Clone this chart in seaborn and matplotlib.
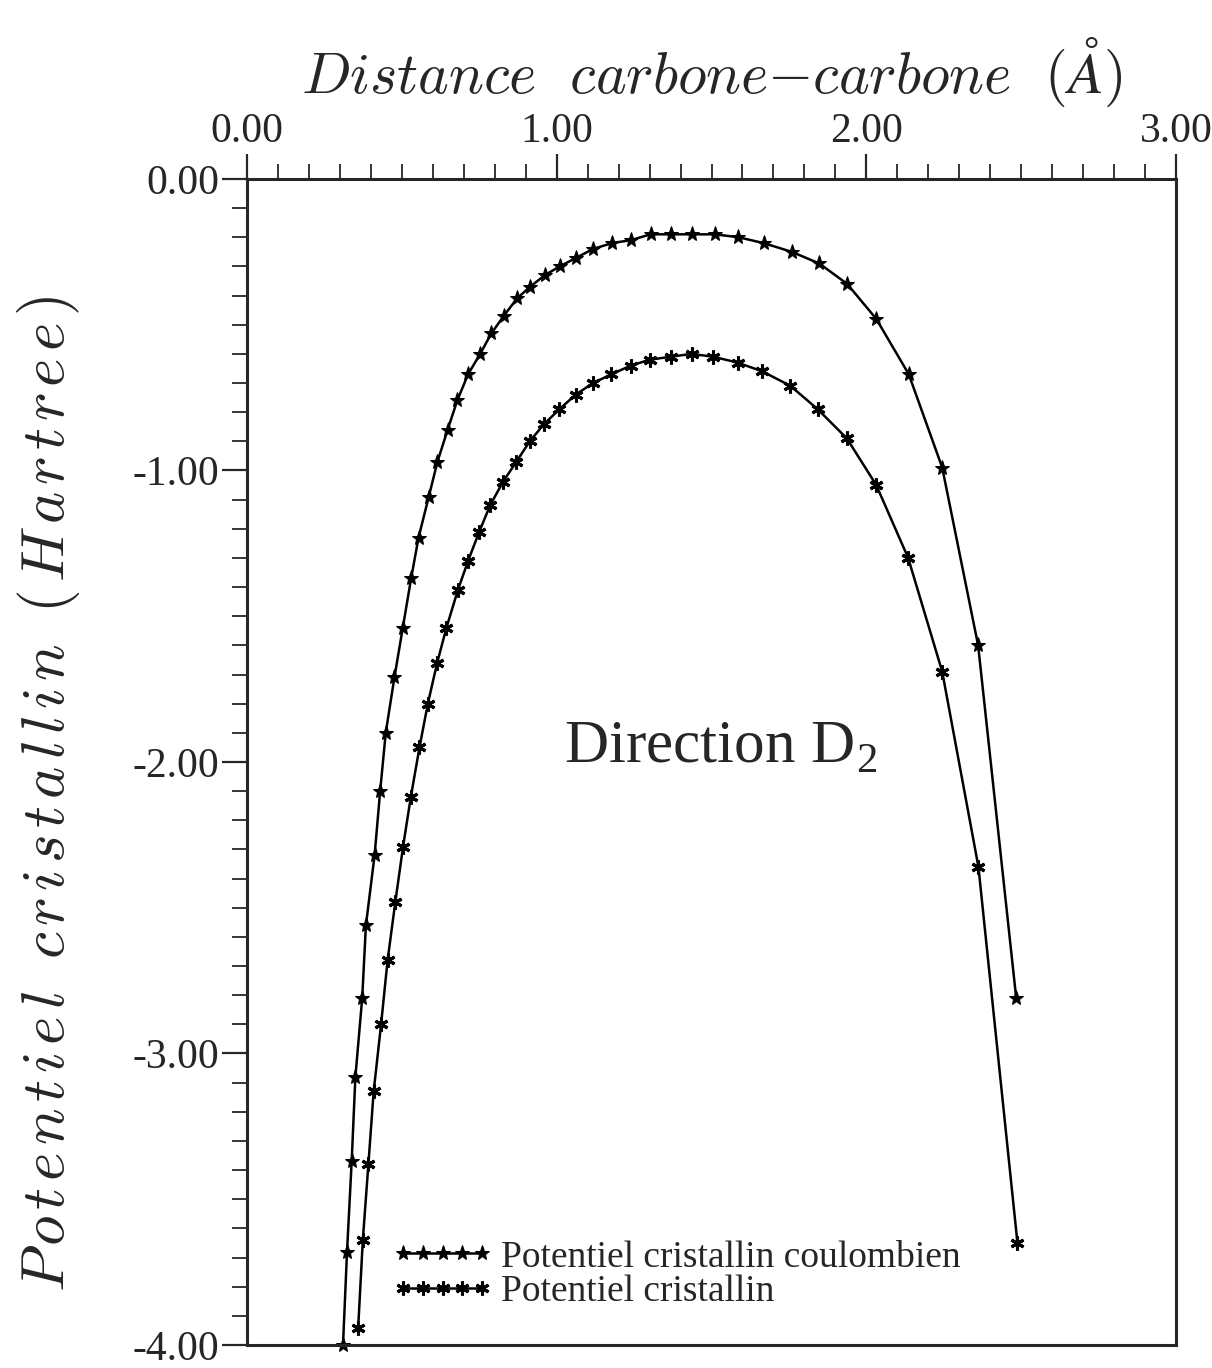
import numpy as np
import pandas as pd
import seaborn as sns
import matplotlib.pyplot as plt
from matplotlib.ticker import MultipleLocator, FormatStrFormatter
from matplotlib.transforms import ScaledTranslation

# Potentiel cristallin coulombien (outer curve)
x_coul = [0.310, 0.323, 0.338, 0.350, 0.372, 0.384, 0.412, 0.430, 0.448, 0.476,
          0.503, 0.530, 0.554, 0.587, 0.615, 0.648, 0.679, 0.714, 0.753, 0.789,
          0.829, 0.872, 0.914, 0.962, 1.010, 1.064, 1.118, 1.179, 1.240, 1.303,
          1.370, 1.436, 1.510, 1.587, 1.668, 1.759, 1.848, 1.938, 2.032, 2.137,
          2.245, 2.361, 2.484]
y_coul = [-4.00, -3.68, -3.37, -3.08, -2.81, -2.56, -2.32, -2.10, -1.90, -1.71,
          -1.54, -1.37, -1.23, -1.09, -0.97, -0.86, -0.76, -0.67, -0.60, -0.53,
          -0.47, -0.41, -0.37, -0.33, -0.30, -0.27, -0.24, -0.22, -0.21, -0.19,
          -0.19, -0.19, -0.19, -0.20, -0.22, -0.25, -0.29, -0.36, -0.48, -0.67,
          -0.99, -1.60, -2.81]

# Potentiel cristallin (inner curve)
x_cris = [0.359, 0.374, 0.392, 0.409, 0.433, 0.454, 0.479, 0.504, 0.529, 0.557,
          0.584, 0.614, 0.644, 0.681, 0.714, 0.750, 0.785, 0.826, 0.870, 0.913,
          0.960, 1.009, 1.061, 1.118, 1.177, 1.240, 1.301, 1.368, 1.436, 1.506,
          1.584, 1.664, 1.755, 1.843, 1.937, 2.032, 2.135, 2.245, 2.362, 2.488]
y_cris = [-3.94, -3.64, -3.38, -3.13, -2.90, -2.68, -2.48, -2.29, -2.12, -1.95,
          -1.80, -1.66, -1.54, -1.41, -1.31, -1.21, -1.12, -1.04, -0.97, -0.90,
          -0.84, -0.79, -0.74, -0.70, -0.67, -0.64, -0.62, -0.61, -0.60, -0.61,
          -0.63, -0.66, -0.71, -0.79, -0.89, -1.05, -1.30, -1.69, -2.36, -3.65]

df_coul = pd.DataFrame({'x': x_coul, 'y': y_coul})
df_cris = pd.DataFrame({'x': x_cris, 'y': y_cris})


def spread(text, gap):
    # italic mathtext with a bit of letter spacing
    out = []
    for ch in text:
        if ch == ' ':
            out.append(r'\ ')
        else:
            out.append(r'\mathit{%s}' % ch)
    return '$' + (r'\hspace{%s}' % gap).join(out) + '$'


sns.set_theme(style='ticks')
plt.rcParams['font.family'] = ['Liberation Serif', 'DejaVu Serif']
plt.rcParams['mathtext.fontset'] = 'cm'

fig = plt.figure(figsize=(12.12, 13.68), dpi=100)
ax = fig.add_axes([0.2038, 0.0168, 0.7665, 0.8524])

sns.lineplot(data=df_coul, x='x', y='y', ax=ax, color='black', lw=1.8,
             marker='*', markersize=11, markeredgecolor='black',
             sort=False, estimator=None, clip_on=False,
             label='Potentiel cristallin coulombien')
sns.lineplot(data=df_cris, x='x', y='y', ax=ax, color='black', lw=1.8,
             marker=(6, 2, 0), markersize=10, markeredgewidth=2.2,
             markeredgecolor='black',
             sort=False, estimator=None, clip_on=False,
             label='Potentiel cristallin')

ax.set_xlim(0, 3)
ax.set_ylim(-4, 0)

# x axis on top
ax.xaxis.set_ticks_position('top')
ax.xaxis.set_label_position('top')
ax.xaxis.set_major_locator(MultipleLocator(1.0))
ax.xaxis.set_minor_locator(MultipleLocator(0.1))
ax.yaxis.set_major_locator(MultipleLocator(1.0))
ax.yaxis.set_minor_locator(MultipleLocator(0.1))
ax.xaxis.set_major_formatter(FormatStrFormatter('%.2f'))
ax.yaxis.set_major_formatter(FormatStrFormatter('%.2f'))
ax.tick_params(which='major', length=18, width=1.6, labelsize=30, pad=2)
ax.tick_params(which='minor', length=11, width=1.3)
ax.tick_params(axis='x', which='both', top=True, bottom=False)
ax.tick_params(axis='y', which='both', left=True, right=False)

for s in ax.spines.values():
    s.set_linewidth(2.2)
    s.set_visible(True)

ax.set_xlabel(r'$\mathit{Distance\ \ carbone{-}carbone\ \ (\AA)}$',
              fontsize=42, labelpad=14)
ax.set_ylabel(spread('Potentiel cristallin (Hartree)', 0.13), fontsize=44)
ax.yaxis.set_label_coords(-0.178, 0.473)

ax.text(1.53, -1.95, r'Direction D$_\mathregular{2}$', fontsize=44,
        ha='center', va='center')

ax.legend(loc='lower left', bbox_to_anchor=(0.14, 0.018), frameon=False,
          numpoints=5, handlelength=2.7, handletextpad=0.2,
          labelspacing=0.0, fontsize=27, borderaxespad=0)

# keep the last top label inside the figure, as in the scan
fig.canvas.draw()
last = ax.get_xticklabels()[-1]
last.set_transform(last.get_transform() +
                   ScaledTranslation(-0.14, 0, fig.dpi_scale_trans))

fig.savefig('out.png', dpi=100)
